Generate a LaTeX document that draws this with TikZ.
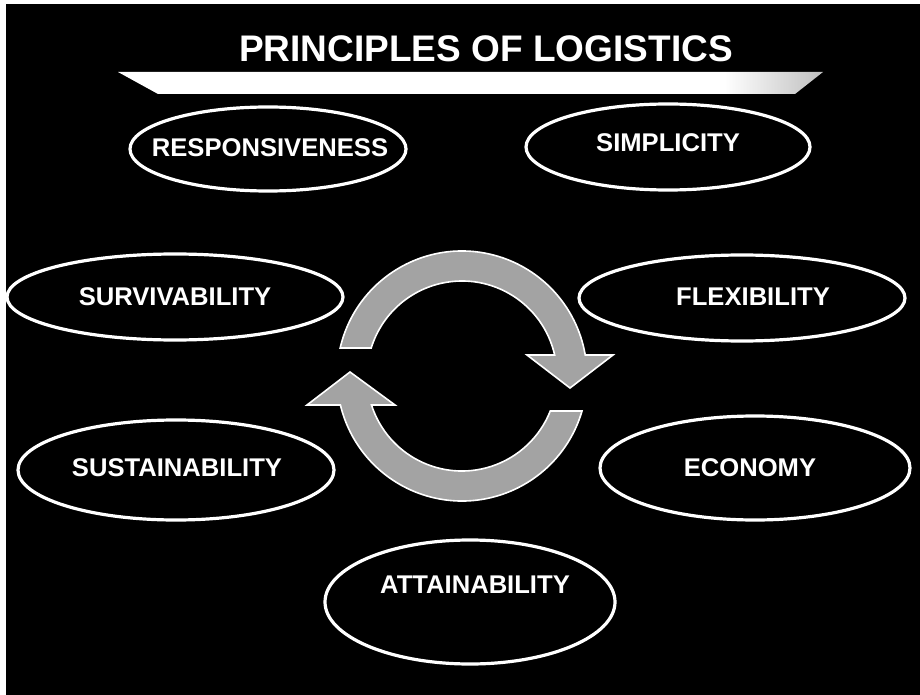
\documentclass[tikz,border=0pt]{standalone}
\usepackage{fontspec}
\setmainfont{Liberation Sans}
\colorlet{ringgray}{black!36}
\pgfdeclarehorizontalshading{bannershade}{100bp}{color(0bp)=(white); color(25bp)=(white); color(68bp)=(white); color(75bp)=(black!25); color(100bp)=(black!25)}
\tikzset{
  principle/.style={draw=white, line width=1.6pt},
  word/.style={text=white, font=\fontsize{12.8}{16}\selectfont\bfseries},
  ringarrow/.style={fill=ringgray, draw=white, line width=0.8pt, line join=miter},
}

\begin{document}
\begin{tikzpicture}[x=0.5pt,y=-0.5pt]
	\useasboundingbox (0,0) rectangle (920,695);
	\fill[white] (0,0) rectangle (920,695);
	\fill[black] (6,4) rectangle (920,695);
	% heading and banner
	\node[text=white, font=\fontsize{18.5}{22}\selectfont\bfseries, anchor=base] (title) at (486,62) {PRINCIPLES OF LOGISTICS};
	\shade[shading=bannershade] (118,72) -- (823,72) -- (795,94) -- (158,94) -- cycle;
	% the seven principles
	\foreach \n/\cx/\cy/\rx/\ry/\tx/\ty/\t in {resp/268/149/138/42/270/148/RESPONSIVENESS, simp/668/147/142/43/668/143/SIMPLICITY, surv/175/297/168/43/175/297/SURVIVABILITY, flex/742/298/163/43/753/297/FLEXIBILITY, sust/176/470/158/50/177/468/SUSTAINABILITY, econ/755/468/155/52/750/468/ECONOMY, attn/470/602/145/62/475/585/ATTAINABILITY}
	{
		\draw[principle] (\cx,\cy) ellipse [x radius=\rx, y radius=\ry];
		\node[word] (\n) at (\tx,\ty) {\t};
	}
	% cycle arrows
	\filldraw[ringarrow] (462,376) ++(192.94:125) arc[start angle=192.94, end angle=350.33, radius=125] -- (613,355) -- (570,388) -- (527,355) -- (554.65,355) arc[start angle=347.23, end angle=197.14, radius=95] -- cycle;
	\filldraw[ringarrow] (462,376) ++(16.26:125) arc[start angle=16.26, end angle=166.59, radius=125] -- (307,405) -- (350,372) -- (395,405) -- (371.5,405) arc[start angle=162.23, end angle=21.62, radius=95] -- cycle;
\end{tikzpicture}
\end{document}
